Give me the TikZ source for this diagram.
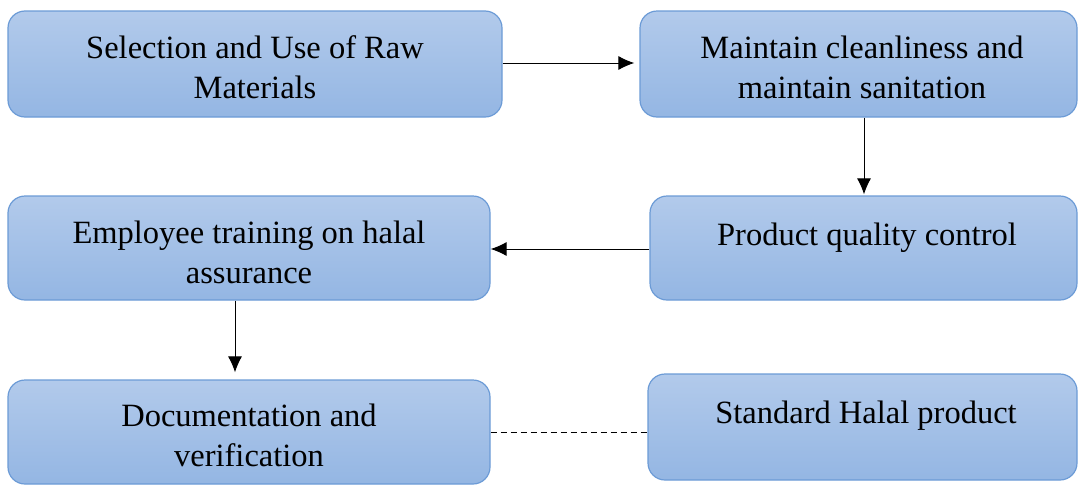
\documentclass[tikz,border=0pt]{standalone}
\usepackage{fontspec}
\setmainfont{Liberation Serif}
\definecolor{boxtop}{RGB}{178,202,235}
\definecolor{boxbot}{RGB}{148,182,227}
\definecolor{boxline}{RGB}{108,155,214}
\tikzset{
  box/.style={draw=boxline, line width=1.2pt, rounded corners=17pt, top color=boxtop, bottom color=boxbot, inner sep=0pt},
  txt/.style={font=\fontsize{32.5}{40}\selectfont, align=center, inner sep=0pt, text=black},
  arr/.style={-{Latex[length=16pt,width=14pt]}, line width=1pt, black},
}
\usetikzlibrary{arrows.meta}
\begin{document}
\begin{tikzpicture}[x=1pt,y=-1pt]
\useasboundingbox (0,0) rectangle (1078,485);
\node[box, minimum width=494pt, minimum height=106pt] (b1) at (255,64) {};
\node[box, minimum width=437pt, minimum height=106pt] (b2) at (858.5,64) {};
\node[box, minimum width=427pt, minimum height=104pt] (b3) at (863.5,248) {};
\node[box, minimum width=482pt, minimum height=104pt] (b4) at (249,248) {};
\node[box, minimum width=482pt, minimum height=104pt] (b5) at (249,432) {};
\node[box, minimum width=429pt, minimum height=106pt] (b6) at (862.5,427) {};
\node[txt] (t1) at (255,67) {Selection and Use of Raw\\Materials};
\node[txt] (t2) at (862,67) {Maintain cleanliness and\\maintain sanitation};
\node[txt] (t3) at (867,238) {Product quality control};
\node[txt] (t4) at (249,252) {Employee training on halal\\assurance};
\node[txt] (t5) at (249,435) {Documentation and\\verification};
\node[txt] (t6) at (866,416) {Standard Halal product};
\draw[arr] (b1.east |- 0,63) -- ([xshift=-5pt]b2.west |- 0,63);
\draw[arr] (b2.south -| 864,0) -- ([yshift=1pt]b3.north -| 864,0);
\draw[arr] (b3.west |- 0,249) -- (b4.east |- 0,249);
\draw[arr] (b4.south -| 235,0) -- ([yshift=7pt]b5.north -| 235,0);
\draw[dashed, line width=1pt, dash pattern=on 6pt off 4pt] (b5.east |- 0,432) -- (b6.west |- 0,432);
\end{tikzpicture}
\end{document}
